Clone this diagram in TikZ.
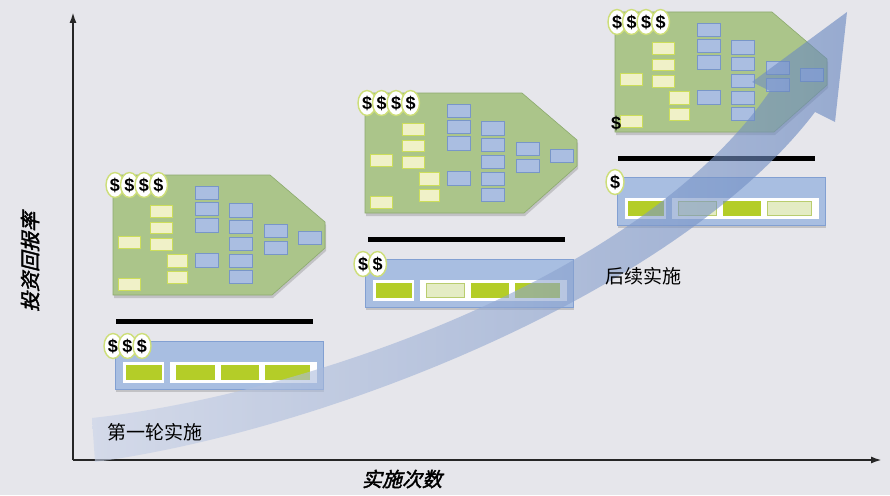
\documentclass[tikz,border=0pt]{standalone}
\usepackage{fontspec}
\setmainfont{Liberation Sans}
\newfontfamily\cjk{Noto Sans CJK SC}
\newfontfamily\cjkbi{Noto Sans CJK SC}[FakeSlant=0.25,FakeBold=2]
\usetikzlibrary{shadows,shapes.geometric,arrows.meta}

\definecolor{bggrey}{RGB}{230,230,235}
\definecolor{cardgreen}{RGB}{171,197,138}
\definecolor{cardedge}{RGB}{140,170,110}
\definecolor{taskyellow}{RGB}{240,241,200}
\definecolor{taskedge}{RGB}{205,222,90}
\definecolor{moduleblue}{RGB}{170,190,225}
\definecolor{moduleedge}{RGB}{120,150,200}
\definecolor{releaseblue}{RGB}{168,190,225}
\definecolor{releaseedge}{RGB}{130,160,210}
\definecolor{doneg}{RGB}{180,205,40}
\definecolor{paleg}{RGB}{228,236,196}
\definecolor{paleedge}{RGB}{185,205,110}
\definecolor{coinedge}{RGB}{205,222,120}
\definecolor{bandlight}{RGB}{200,210,232}
\definecolor{banddark}{RGB}{100,132,190}

\begin{document}
\begin{tikzpicture}[x=1pt,y=-1pt]

    % `card' is one planning card, `task' and `module' the boxes on it.
    % `release' is the bar below a card, `slot' its white panes.
    % `done' and `pale' fill the panes, `coin' marks the cost.
    \tikzstyle{card} = [draw=cardedge,fill=cardgreen,line width=0.6pt,
        drop shadow={opacity=0.35,shadow xshift=1pt,shadow yshift=-3pt}]
    \tikzstyle{task} = [draw=taskedge,fill=taskyellow,line width=0.8pt]
    \tikzstyle{module} = [draw=moduleedge,fill=moduleblue,line width=0.6pt]
    \tikzstyle{release} = [draw=releaseedge,fill=releaseblue,line width=0.8pt,
        drop shadow={opacity=0.35,shadow xshift=1pt,shadow yshift=-3pt}]
    \tikzstyle{slot} = [fill=white]
    \tikzstyle{done} = [draw=doneg,fill=doneg,line width=0.8pt]
    \tikzstyle{pale} = [draw=paleedge,fill=paleg,line width=0.8pt]
    \tikzstyle{coin} = [ellipse,draw=coinedge,fill=white,line width=1.4pt,
        minimum width=18pt,minimum height=25pt,inner sep=0pt,
        font=\bfseries\fontsize{18}{18}\selectfont]
    \tikzstyle{milestone} = [line width=5pt]
    \tikzstyle{axis} = [line width=2pt,black!85,-{Latex[length=11pt,width=7pt]}]
    \tikzstyle{caption} = [font=\cjk\fontsize{19}{22}\selectfont,inner sep=0pt]
    \tikzstyle{axislabel} = [font=\cjkbi\fontsize{20}{22}\selectfont,inner sep=0pt]

    \useasboundingbox[fill=bggrey] (0,0) rectangle (890,495);

    % Axes.
    \coordinate (origin) at (73,460);
    \coordinate (ytop) at (73,12);
    \coordinate (xend) at (882,460);
    \draw[axis] (origin) -- (ytop);
    \draw[axis] (origin) -- (xend);

    % Planning cards.
    \foreach \dx/\dy/\n in {0/0/1,252/-82/2,502/-163/3} {
    \begin{scope}[shift={(113+\dx,175+\dy)}]
        \draw[card] (0,0) -- (157,0) -- (212,47) -- (212,73) -- (159,120)
            -- (0,120) -- cycle;
        \foreach \a/\b/\c/\d in {37/30/59/42,37/47/59/58,37/63/59/75,
            5/61/27/73,54/79/74/92,54/96/74/108,5/103/27/115}
            \draw[task] (\a,\b) rectangle (\c,\d);
        \foreach \a/\b/\c/\d in {82/11/105/24,82/27/105/40,82/43/105/57,
            82/78/105/92,116/28/139/42,116/45/139/58,116/62/139/75,
            116/79/139/92,116/95/139/108,151/49/174/62,151/66/174/79,
            185/56/208/69}
            \draw[module] (\a,\b) rectangle (\c,\d);
        \foreach \k in {1,...,4}
            \node[coin] (card\n-coin\k) at ({2+14.5*(\k-1)},10) {\$};
        % Line under the card.
        \draw[milestone] (3,146) -- (200,146);
    \end{scope}
    }
    \node[font=\bfseries\fontsize{18}{18}\selectfont,inner sep=0pt]
        (card3-single) at (616,123) {\$};

    % Release bars.
    \foreach \dx/\dy/\coins/\pa/\pb/\pc/\pd in {0/0/3/done/done/done/done,
        250/-82/2/done/pale/done/done,502/-164/1/done/pale/done/pale} {
    \begin{scope}[shift={(115+\dx,341+\dy)}]
        \draw[release] (0,0) rectangle (208,48);
        \fill[slot] (8,21) rectangle (49,42);
        \fill[slot] (55,21) rectangle (202,42);
        \filldraw[\pa] (11,24) rectangle (46,38);
        \filldraw[\pb] (61,24) rectangle (99,38);
        \filldraw[\pc] (106,24) rectangle (143,38);
        \filldraw[\pd] (150,24) rectangle (194,38);
        \foreach \k in {1,...,\coins}
            \node[coin] (bar\coins-coin\k) at ({-2+14.5*(\k-1)},5) {\$};
    \end{scope}
    }

    % Rising arrow.
    \shade[left color=bandlight,right color=banddark,opacity=0.6]
        (92,418) .. controls (300,395) and (640,280) .. (770,91)
        -- (752,82) -- (847,12) -- (835,122) -- (815,112)
        .. controls (680,290) and (330,430) .. (95,462) -- cycle;

    % Labels.
    \node[caption] (first) at (155,432) {第一轮实施};
    \node[caption] (later) at (643,276) {后续实施};
    \node[axislabel,rotate=90] (roi) at (30,262) {投资回报率};
    \node[axislabel] (runs) at (402,479) {实施次数};

\end{tikzpicture}
\end{document}
